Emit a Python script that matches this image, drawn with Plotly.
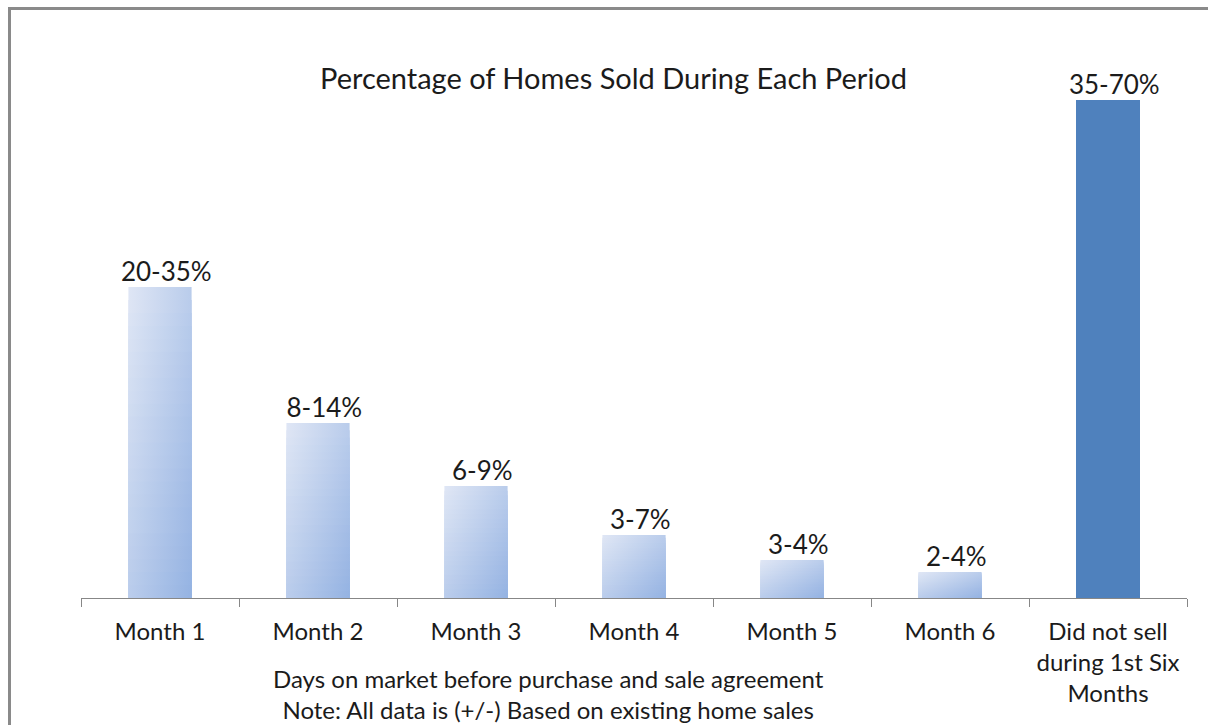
import plotly.graph_objects as go

categories = ["Month 1", "Month 2", "Month 3", "Month 4", "Month 5", "Month 6",
              "Did not sell<br>during 1st Six<br>Months"]
values = [31.1, 17.5, 11.2, 6.3, 3.8, 2.6, 49.8]
labels = ["20-35%", "8-14%", "6-9%", "3-7%", "3-4%", "2-4%", "35-70%"]
gradient_flags = [True, True, True, True, True, True, False]

FONT = "Lato"
TXT = "#1b1b1b"
C0 = (224, 231, 245)   # top-left light
C1 = (148, 178, 226)   # bottom-right dark
SOLID = "#4f81bd"
BAR_W = 0.4
N_BANDS = 24


def lerp(t):
    return "rgb(%d,%d,%d)" % tuple(round(a + (b - a) * t) for a, b in zip(C0, C1))


fig = go.Figure()

for i, (v, grad) in enumerate(zip(values, gradient_flags)):
    x0, x1 = i - BAR_W / 2, i + BAR_W / 2
    if grad:
        for k in range(N_BANDS):
            vv = (k + 0.5) / N_BANDS
            ytop = v * (1 - k / N_BANDS)
            fig.add_trace(go.Scatter(
                x=[x0, x1, x1, x0, x0], y=[0, 0, ytop, ytop, 0],
                mode="lines", line=dict(width=0), fill="toself",
                fillgradient=dict(type="horizontal",
                                  colorscale=[[0, lerp(vv / 2)], [1, lerp((1 + vv) / 2)]],
                                  start=x0, stop=x1),
                hoverinfo="skip", showlegend=False))
    else:
        fig.add_trace(go.Bar(x=[i], y=[v], width=BAR_W, marker=dict(color=SOLID, line=dict(width=0)),
                             hoverinfo="skip", showlegend=False))

fig.add_trace(go.Scatter(
    x=[i + 0.04 for i in range(len(values))], y=values, text=labels, mode="text",
    textposition="top center", textfont=dict(family=FONT, size=26, color=TXT),
    hoverinfo="skip", showlegend=False))

L, R, T, B = 81, 21, 58, 127
W, H = 1208, 725
plot_w, plot_h = W - L - R, H - T - B


def px_x(p):
    return (p - L) / plot_w


def px_y(p):
    return (H - B - p) / plot_h


fig.update_layout(
    width=W, height=H,
    margin=dict(l=L, r=R, t=T, b=B),
    paper_bgcolor="white", plot_bgcolor="white",
    font=dict(family=FONT, size=24, color=TXT),
    xaxis=dict(range=[-0.5, len(values) - 0.5], tickvals=list(range(len(values))),
               ticktext=categories, ticks="", showgrid=False, zeroline=False,
               showline=True, linecolor="#878787", linewidth=1,
               tickfont=dict(family=FONT, size=24, color=TXT),
               ticklabelstandoff=12,
               minor=dict(ticks="outside", tick0=-0.5, dtick=1, ticklen=8,
                          tickcolor="#878787", tickwidth=1, showgrid=False)),
    yaxis=dict(range=[0, plot_h / 10], visible=False, showgrid=False, zeroline=False),
    bargap=0,
    annotations=[
        dict(text="Percentage of Homes Sold During Each Period", x=px_x(613), y=px_y(77),
             xref="paper", yref="paper", xanchor="center", yanchor="middle", showarrow=False,
             font=dict(family=FONT, size=29, color=TXT)),
        dict(text="Days on market before purchase and sale agreement<br>Note: All data is (+/-) Based on existing home sales",
             x=px_x(548), y=px_y(694), xref="paper", yref="paper", xanchor="center",
             yanchor="middle", showarrow=False, font=dict(family=FONT, size=24, color=TXT)),
    ],
    shapes=[
        dict(type="line", xref="paper", yref="paper", x0=px_x(9.5), x1=px_x(1215),
             y0=px_y(8.5), y1=px_y(8.5), line=dict(color="#8a8a8a", width=3)),
        dict(type="line", xref="paper", yref="paper", x0=px_x(9.5), x1=px_x(9.5),
             y0=px_y(7), y1=px_y(740), line=dict(color="#8a8a8a", width=3)),
    ],
)

fig.write_html("out.html")
